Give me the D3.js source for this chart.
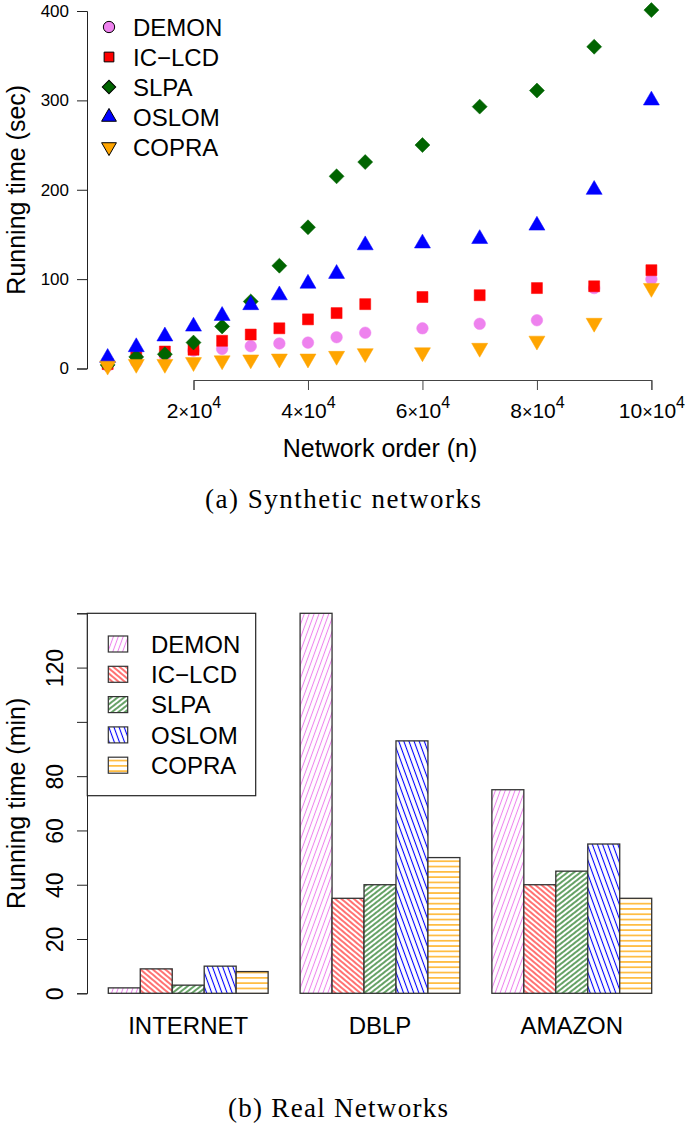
<!DOCTYPE html>
<html><head><meta charset="utf-8">
<script src="https://cdn.jsdelivr.net/npm/d3@7"></script>
<style>
html,body{margin:0;padding:0;background:#fff;}
svg{display:block;}
text{font-family:"Liberation Sans",Arial,sans-serif;fill:#000;}
.cap{font-family:"Liberation Serif","DejaVu Serif",serif;}
</style></head>
<body>
<script>
// ---------- data: (a) synthetic networks ----------
const networkOrder = [5000,10000,15000,20000,25000,30000,35000,40000,45000,50000,60000,70000,80000,90000,100000];
const demonSec = [3,7,14,20,22,25,28,29,35,40,45,50,54,90,100];
const iclcdSec = [5,13,19,21,31,38,45,55,62,72,80,82,90,92,110];
const slpaSec  = [4,13,16,29,47,75,115,158,215,231,250,293,311,360,401];
const oslomSec = [12,24,36,47,59,71,82,95,106,138,140,145,160,200,300];
const copraSec = [3,5,5,7,9,10,11,11,14,17,18,23,31,51,90];
const topYTicks = [0,100,200,300,400];
const topXTicks = [20000,40000,60000,80000,100000];
const topXTickLabels = ["2","4","6","8","10"];

// ---------- data: (b) real networks ----------
const realNetworks = ["INTERNET","DBLP","AMAZON"];
const methods = ["DEMON","IC\u2212LCD","SLPA","OSLOM","COPRA"];
const demonMin = [2,140,75];
const iclcdMin = [9,35,40];
const slpaMin  = [3,40,45];
const oslomMin = [10,93,55];
const copraMin = [8,50,35];
const botYTicks = [0,20,40,60,80,100,120,140];
const botYLabelled = [0,20,40,60,80,120];

const colors = ["#EE82EE","#FF0000","#006400","#0000FF","#FFA500"];

const W = 685, H = 1124;
const svg = d3.select("body").append("svg").attr("width",W).attr("height",H);
const defs = svg.append("defs");

// ================= (a) =================
const xA = d3.scaleLinear().domain([20000,100000]).range([193.5,651.4]);
const yA = d3.scaleLinear().domain([0,400]).range([368.5,11]);
const axisCol = "#222";

const gA = svg.append("g");
// y axis
const yAx = gA.append("g").attr("transform","translate(87,0)")
  .call(d3.axisLeft(yA).tickValues(topYTicks).tickSize(10).tickPadding(8));
yAx.select(".domain").attr("stroke",axisCol);
yAx.selectAll(".tick line").attr("stroke",axisCol);
yAx.selectAll(".tick text").attr("font-size",17).attr("font-family","Liberation Sans, Arial, sans-serif").attr("fill","#000");
// x axis
const xAx = gA.append("g").attr("transform","translate(0,380)")
  .call(d3.axisBottom(xA).tickValues(topXTicks).tickSize(10).tickFormat(""));
xAx.select(".domain").attr("stroke","#444");
xAx.selectAll(".tick line").attr("stroke","#444");
xAx.selectAll(".tick").each(function(d,i){
  const t = d3.select(this).append("text").attr("y",38).attr("text-anchor","middle")
    .attr("font-size",21).attr("fill","#000");
  t.append("tspan").text(topXTickLabels[i]);
  t.append("tspan").attr("font-size",18).text("\u00D7");
  t.append("tspan").text("10");
  t.append("tspan").attr("font-size",16).attr("dy",-10).text("4");
});
gA.append("text").attr("x",380).attr("y",457)
  .attr("text-anchor","middle").attr("font-size",25).text("Network order (n)");
gA.append("text").attr("transform",`translate(25,${(yA(0)+yA(400))/2}) rotate(-90)`)
  .attr("text-anchor","middle").attr("font-size",25).text("Running time (sec)");

const symDefs = [
  {vals:demonSec, type:d3.symbolCircle, size:106, rot:0},
  {vals:iclcdSec, type:d3.symbolSquare, size:121, rot:0},
  {vals:slpaSec,  type:d3.symbolSquare, size:112, rot:45},
  {vals:oslomSec, type:d3.symbolTriangle, size:111, rot:0},
  {vals:copraSec, type:d3.symbolTriangle, size:111, rot:180}
];
symDefs.forEach((s,k)=>{
  gA.append("g").selectAll("path").data(s.vals).join("path")
    .attr("d", d3.symbol().type(s.type).size(s.size))
    .attr("transform",(v,i)=>`translate(${xA(networkOrder[i])},${yA(v)}) rotate(${s.rot})`)
    .attr("fill",colors[k]).attr("stroke",colors[k]).attr("stroke-width",0.5);
});
// legend (a)
const legA = gA.append("g");
const legSizes = [106,100,95,100,100];
methods.forEach((m,k)=>{
  const cy = 27 + k*30;
  legA.append("path")
    .attr("d", d3.symbol().type(symDefs[k].type).size(legSizes[k]*0.95))
    .attr("transform",`translate(109,${cy}) rotate(${symDefs[k].rot})`)
    .attr("fill",colors[k]).attr("stroke","#000").attr("stroke-width",1);
  legA.append("text").attr("x",133).attr("y",cy).attr("dy","0.36em")
    .attr("font-size",24).text(m);
});
svg.append("text").attr("class","cap").attr("x",343).attr("y",508)
  .attr("text-anchor","middle").attr("font-size",27)
  .attr("textLength",276).attr("lengthAdjust","spacing").text("(a) Synthetic networks");

// ================= (b) =================
const hatch = [
  {angle:-70, sp:4.6, w:1.0},
  {angle:40,  sp:4.0, w:1.1},
  {angle:-38, sp:4.0, w:1.2},
  {angle:70,  sp:4.8, w:1.1},
  {angle:0,   sp:5.3, w:1.3}
];
hatch.forEach((h,k)=>{
  const p = defs.append("pattern").attr("id","hatch"+k)
    .attr("patternUnits","userSpaceOnUse").attr("width",20).attr("height",h.sp)
    .attr("patternTransform",`rotate(${h.angle})`);
  p.append("rect").attr("width",20).attr("height",h.sp).attr("fill","#fff");
  p.append("line").attr("x1",0).attr("x2",20).attr("y1",h.sp/2).attr("y2",h.sp/2)
    .attr("stroke",colors[k]).attr("stroke-width",h.w);
});

const yB = d3.scaleLinear().domain([0,140]).range([993.3,613.3]);
const xB = d3.scaleBand().domain(realNetworks).range([108.3,651.7]).paddingInner(1/6).paddingOuter(0);
const xInner = d3.scaleBand().domain(methods).range([0,xB.bandwidth()]);
const seriesB = [demonMin,iclcdMin,slpaMin,oslomMin,copraMin];

const gB = svg.append("g");
const yBx = gB.append("g").attr("transform","translate(87,0)")
  .call(d3.axisLeft(yB).tickValues(botYTicks).tickSize(10).tickFormat(""));
yBx.select(".domain").attr("stroke",axisCol);
yBx.selectAll(".tick line").attr("stroke",axisCol);
yBx.selectAll(".tick").filter(d=>botYLabelled.includes(d)).append("text")
  .attr("transform","translate(-24,0) rotate(-90)").attr("text-anchor","middle")
  .attr("font-size",23).attr("fill","#000").text(d=>d);
gB.append("text").attr("transform",`translate(25,${(yB(0)+yB(140))/2}) rotate(-90)`)
  .attr("text-anchor","middle").attr("font-size",25).text("Running time (min)");

realNetworks.forEach((net,j)=>{
  const g = gB.append("g").attr("transform",`translate(${xB(net)},0)`);
  methods.forEach((m,k)=>{
    const v = seriesB[k][j];
    g.append("rect").attr("x",xInner(m)).attr("width",xInner.bandwidth())
      .attr("y",yB(v)).attr("height",yB(0)-yB(v))
      .attr("fill",`url(#hatch${k})`).attr("stroke","#333").attr("stroke-width",1.3);
  });
  gB.append("text").attr("x",xB(net)+xB.bandwidth()/2).attr("y",1034)
    .attr("text-anchor","middle").attr("font-size",24).text(net);
});

// legend (b)
const legB = gB.append("g");
legB.append("rect").attr("x",87.3).attr("y",613.3).attr("width",168.4).attr("height",182.4)
  .attr("fill","#fff").attr("stroke","#222").attr("stroke-width",1.2);
methods.forEach((m,k)=>{
  const cy = 644 + k*30.3;
  legB.append("rect").attr("x",108.3).attr("y",cy-8).attr("width",19.4).attr("height",16)
    .attr("fill",`url(#hatch${k})`).attr("stroke","#333").attr("stroke-width",1.2);
  legB.append("text").attr("x",151).attr("y",cy).attr("dy","0.36em")
    .attr("font-size",24).text(m);
});
svg.append("text").attr("class","cap").attr("x",338).attr("y",1117)
  .attr("text-anchor","middle").attr("font-size",27)
  .attr("textLength",220).attr("lengthAdjust","spacing").text("(b) Real Networks");
</script>
</body></html>
